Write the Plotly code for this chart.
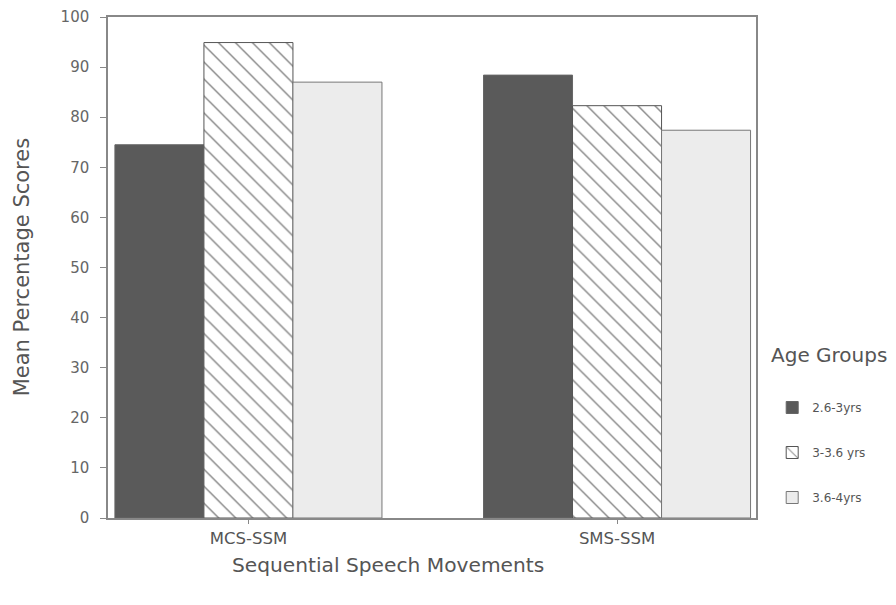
import plotly.graph_objects as go

categories = ["MCS-SSM", "SMS-SSM"]
age_groups = ["2.6-3yrs", "3-3.6 yrs", "3.6-4yrs"]
values_26_3 = [74.5, 88.4]
values_3_36 = [94.9, 82.3]
values_36_4 = [87.0, 77.4]
y_ticks = [0, 10, 20, 30, 40, 50, 60, 70, 80, 90, 100]

series = [values_26_3, values_3_36, values_36_4]
xpos = list(range(len(categories)))

styles = [
    dict(color="#5a5a5a", line=dict(color="#666666", width=1)),
    dict(color="white", line=dict(color="#555555", width=1),
         pattern=dict(shape="\\", fgcolor="#111111", bgcolor="white", size=12, solidity=0.12)),
    dict(color="#ececec", line=dict(color="#777777", width=1)),
]

fig = go.Figure()
for i, (name, vals) in enumerate(zip(age_groups, series)):
    fig.add_trace(go.Bar(x=xpos, y=vals, name=name, marker=styles[i],
                         legendgroup=name))

gray = "#555555"
FONT = "DejaVu Sans, Liberation Sans, Arial, sans-serif"
fig.update_layout(
    width=888, height=597,
    margin=dict(l=100, r=140, t=9, b=87, autoexpand=False),
    paper_bgcolor="white", plot_bgcolor="white",
    barmode="group", bargap=0.2755, bargroupgap=0,
    font=dict(family=FONT, color=gray, size=13),
    showlegend=True,
    legend=dict(
        x=1.025, y=0.2495, xanchor="left", yanchor="top",
        font=dict(size=12, color=gray),
        tracegroupgap=26,
        bgcolor="rgba(0,0,0,0)",
    ),
    xaxis=dict(
        range=[-0.381, 1.377],
        tickvals=xpos, ticktext=categories,
        showline=True, linecolor="#888888", linewidth=1.5, mirror=True,
        ticks="outside", ticklen=4, tickcolor="#888888",
        showgrid=False, zeroline=False, automargin=False,
        tickfont=dict(size=16.5, color=gray),
    ),
    yaxis=dict(
        range=[0, 100],
        tickvals=y_ticks,
        showline=True, linecolor="#888888", linewidth=1.5, mirror=True,
        ticks="outside", ticklen=6, tickcolor="#888888",
        ticklabelstandoff=8,
        showgrid=False, zeroline=False, automargin=False,
        tickfont=dict(size=15, color="#666666"),
    ),
    annotations=[
        dict(text="Mean Percentage Scores", xref="paper", yref="paper",
             x=-0.133, y=0.5, xanchor="center", yanchor="middle",
             textangle=-90, showarrow=False, font=dict(size=21, color=gray)),
        dict(text="Sequential Speech Movements", xref="paper", yref="paper",
             x=0.432, y=-0.094, xanchor="center", yanchor="middle",
             showarrow=False, font=dict(size=20.2, color=gray)),
        dict(text="Age Groups", xref="paper", yref="paper",
             x=1.0195, y=0.325, xanchor="left", yanchor="middle",
             showarrow=False, font=dict(size=20, color=gray)),
    ],
)

fig.write_html("out.html")
